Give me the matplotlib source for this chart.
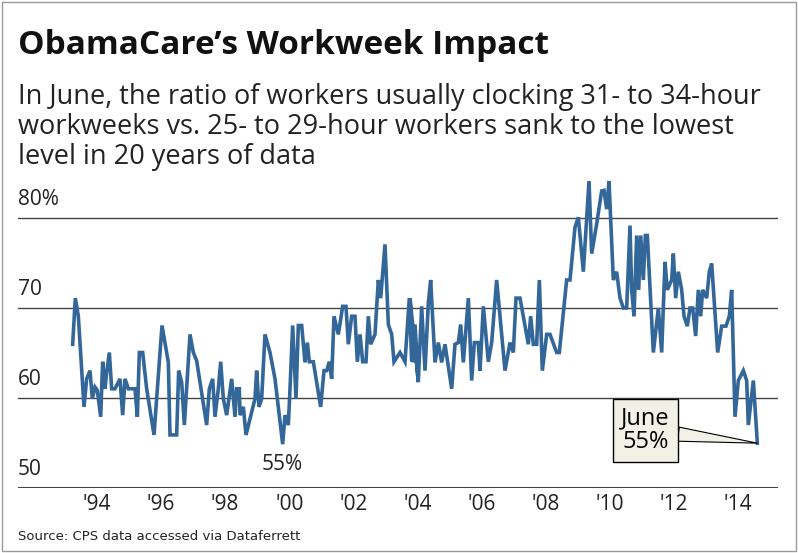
import matplotlib.pyplot as plt
import numpy as np

# vertices (zoom coords -> year / percent)
trace_x = [38, 46, 55, 72, 80, 90, 97, 105, 112, 122, 128, 135, 140, 148, 155, 165, 180, 188, 195, 205,
           225, 232, 238, 248, 260, 282, 306, 325, 330, 350, 356, 365, 373, 390, 400, 410, 440, 448, 458, 465,
           475, 482, 490, 500, 515, 525, 530, 538, 540, 550, 558, 585, 590, 597, 605, 615, 630, 645, 668, 675,
           685, 690, 698, 708, 715, 725, 735, 742, 748, 760, 770, 782, 792, 800, 808, 815, 822, 835, 848, 858,
           865, 875, 885, 892, 900, 908, 918, 925, 932, 945, 955, 962, 975, 985, 995, 1002, 1020, 1035, 1048, 1055,
           1062, 1075]
trace_y = [525, 385, 440, 715, 630, 605, 690, 655, 665, 745, 578, 660, 610, 550, 660, 660, 630, 740, 630, 660,
           660, 745, 550, 550, 660, 800, 468, 580, 800, 800, 605, 640, 770, 495, 550, 575, 770, 660, 630, 745,
           660, 578, 690, 740, 630, 745, 660, 660, 740, 715, 800, 690, 605, 715, 690, 495, 550, 630, 828, 740,
           770, 660, 468, 690, 468, 468, 580, 520, 578, 578, 640, 715, 605, 605, 578, 630, 440, 495, 410, 410,
           525, 440, 440, 578, 495, 578, 578, 440, 525, 495, 330, 385, 222, 465, 495, 578, 550, 578, 385, 578,
           470, 640]
trace2_x = [0, 10, 15, 25, 35, 45, 55, 62, 75, 85, 95, 105, 125, 135, 145, 152, 160, 175, 185, 193,
            205, 210, 220, 235, 245, 260, 285, 300, 310, 318, 330, 345, 355, 362, 370, 380, 388, 397, 410, 420,
            440, 448, 470, 480, 495, 505, 520, 537, 545, 560, 575, 582, 590, 597, 610, 620, 630, 640, 650, 660,
            665, 672, 680, 686, 692, 700, 706, 712, 730, 745, 755, 765, 772, 785, 790, 797, 805, 815, 822, 832,
            840, 848, 857, 865, 872, 878, 890, 898, 905, 923, 935, 948, 958, 965, 975, 985, 1000, 1010, 1015, 1030,
            1042]
trace2_y = [385, 580, 465, 635, 410, 605, 400, 330, 580, 520, 580, 525, 660, 525, 520, 465, 580, 385, 635, 520,
            520, 605, 410, 578, 520, 330, 605, 520, 550, 385, 385, 470, 525, 440, 525, 525, 330, 605, 495, 495,
            550, 550, 330, 330, 170, 140, 305, 30, 250, 160, 60, 58, 115, 30, 330, 305, 385, 415, 415, 165,
            360, 440, 195, 360, 195, 330, 195, 195, 550, 415, 550, 275, 360, 330, 250, 385, 305, 360, 440, 470,
            415, 415, 500, 360, 440, 360, 385, 305, 280, 550, 470, 470, 440, 360, 745, 635, 605, 635, 770, 635,
            825]

years = [1994 + (x - 36) / 100 for x in trace_x] + [1994 + (1050 + x - 36) / 100 for x in trace2_x]
ratio = [60 + (688 - y) / 27.3 for y in trace_y + trace2_y]

tick_labels = ["'94", "'96", "'98", "'00", "'02", "'04", "'06", "'08", "'10", "'12", "'14"]
tick_pos = [1994.75 + 0.961 * 2 * i for i in range(len(tick_labels))]
y_levels = [50, 60, 70, 80]
y_labels = ["50", "60", "70", "80%"]

fig = plt.figure(figsize=(7.98, 5.53), dpi=100)
W, H = 798, 553
ax = fig.add_axes([18 / W, (553 - 488) / H, 760 / W, 324 / H])
ax.set_xlim(1992.38, 2015.18)
ax.set_ylim(50, 86)
for s in ax.spines.values():
    s.set_visible(False)
for lv in y_levels[1:]:
    ax.axhline(lv, color='#444444', lw=1, zorder=1)
ax.axhline(50, color='#444444', lw=1.5, zorder=1)
for lv, lab in zip(y_levels, y_labels):
    ax.text(1992.38, lv + 0.9, lab, fontsize=15, family='Open Sans', color='#222222', va='bottom', ha='left')
ax.set_yticks([])
ax.set_xticks(tick_pos)
ax.set_xticklabels(tick_labels, fontsize=15, family='Open Sans', color='#222222')
ax.tick_params(axis='x', length=0, pad=4)

ax.plot(years, ratio, color='#336699', lw=2.6, zorder=3, solid_joinstyle='miter')

ax.text(years[58], 52.6, '55%', fontsize=15, family='Open Sans', ha='center', va='center', color='#222222')
ax.annotate('June\n55%', xy=(years[-1], ratio[-1]), xytext=(2011.2, 56.4),
            fontsize=17, family='Open Sans', ha='center', va='center', linespacing=0.95,
            bbox=dict(boxstyle='square,pad=0.35', fc='#f2f1e6', ec='black', lw=1),
            arrowprops=dict(arrowstyle='wedge,tail_width=0.6', fc='#f2f1e6', ec='black', lw=0.8,
                            shrinkA=0, shrinkB=0))

fig.text(18 / W, 1 - 46 / H, "ObamaCare\u2019s Workweek Impact", fontsize=24, fontweight='bold',
         family='Open Sans', va='center', color='#111111')
fig.text(18 / W, 1 - 127 / H,
         "In June, the ratio of workers usually clocking 31- to 34-hour\n"
         "workweeks vs. 25- to 29-hour workers sank to the lowest\n"
         "level in 20 years of data",
         fontsize=19.5, family='Open Sans', va='center', color='#222222', linespacing=1.1)
fig.text(18 / W, 1 - 537 / H, "Source: CPS data accessed via Dataferrett", fontsize=9.5,
         family='Liberation Sans Narrow', va='center', color='#222222')
fig.patches.append(plt.Rectangle((0.003, 0.004), 0.994, 0.992, transform=fig.transFigure,
                                 fill=False, ec='#999999', lw=1))
fig.savefig('out.png', dpi=100)
